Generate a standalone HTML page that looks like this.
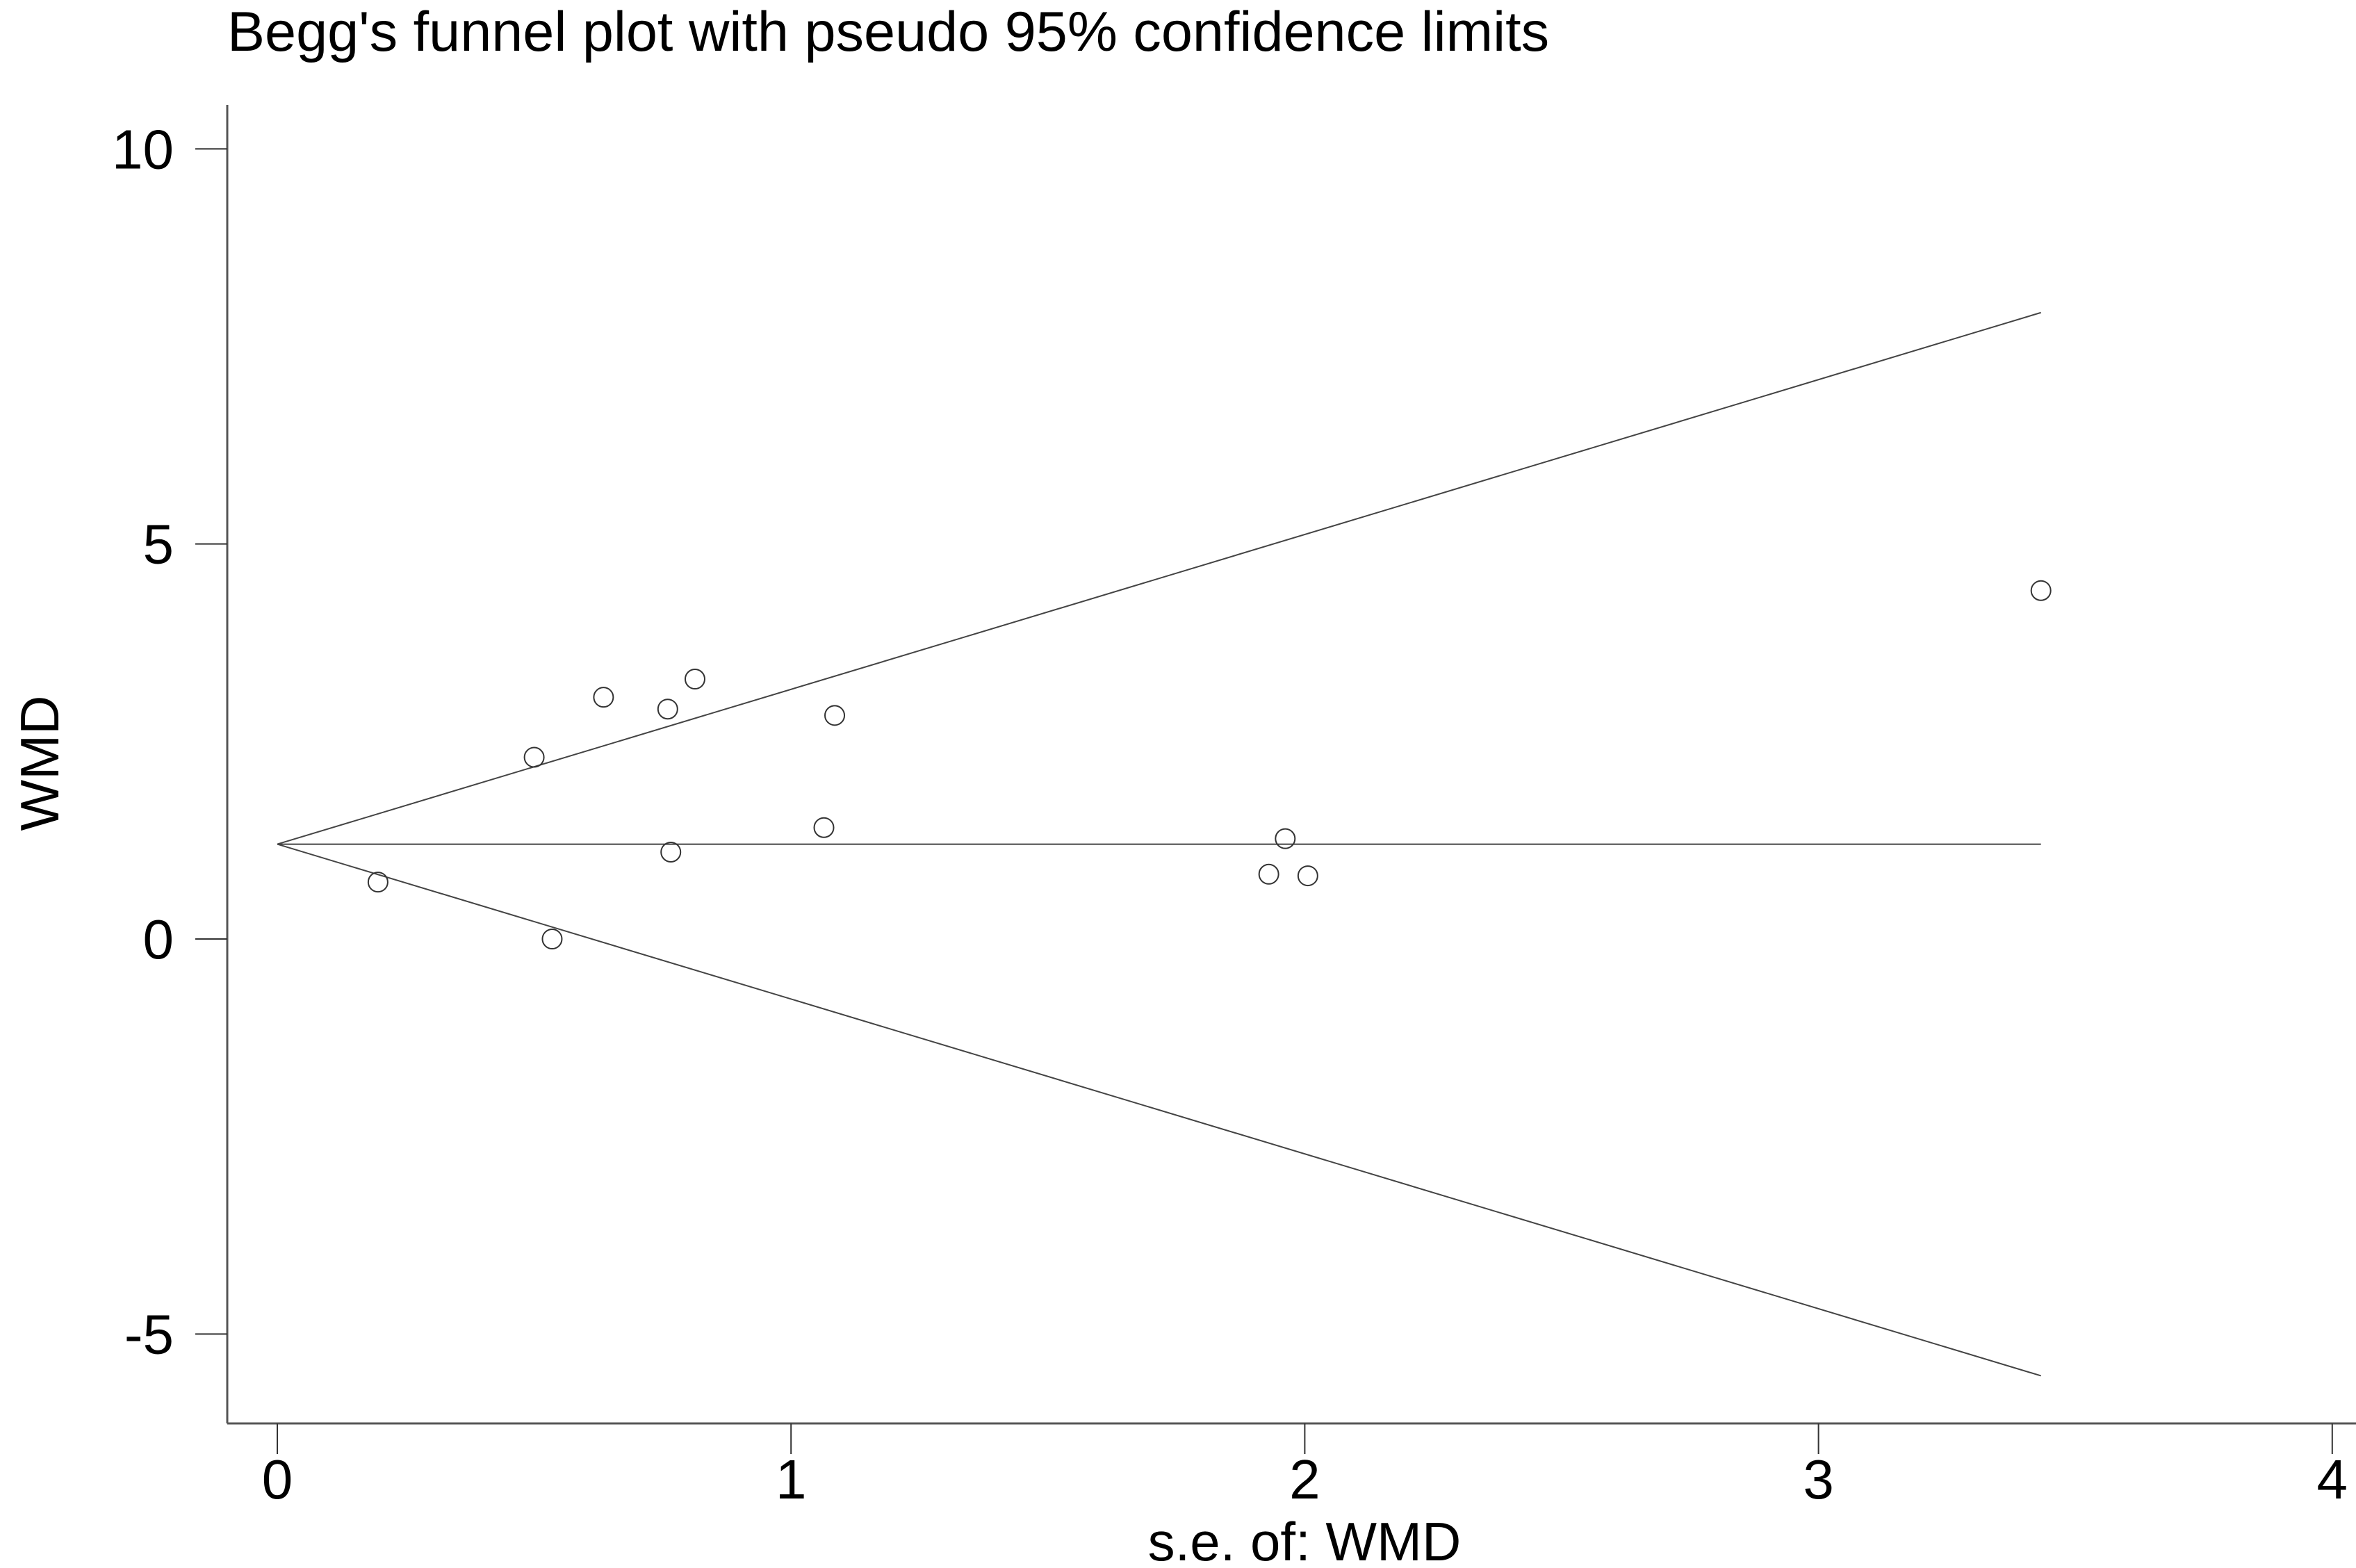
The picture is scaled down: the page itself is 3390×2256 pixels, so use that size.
<!DOCTYPE html>
<html><head><meta charset="utf-8"><style>
html,body{margin:0;padding:0;background:#fff;}
svg{display:block;font-family:"Liberation Sans",Arial,sans-serif;}
</style></head><body>
<svg id="chart" width="3390" height="2256" viewBox="0 0 3390 2256">
<rect width="3390" height="2256" fill="#fff"/>
<text x="327" y="73" font-size="81" fill="#000">Begg's funnel plot with pseudo 95% confidence limits</text>
<g id="axes"></g>
<g id="marks"></g>
</svg>
<script>
const xTicks = [0, 1, 2, 3, 4];
const yTicks = [-5, 0, 5, 10];
const seValues = [0.196, 0.50, 0.535, 0.635, 0.76, 0.766, 0.813, 1.064, 1.085, 1.93, 1.962, 2.006, 3.433];
const wmdValues = [0.72, 2.30, 0.00, 3.06, 2.91, 1.10, 3.29, 1.41, 2.83, 0.82, 1.27, 0.80, 4.41];
const pooled = [1.2];
const maxSe = [3.433];

const NS = 'http://www.w3.org/2000/svg';
const xS = v => 399 + v * 739.2;
const yS = v => 1351 - v * 113.67;
const axes = document.getElementById('axes');
const marks = document.getElementById('marks');
function mk(tag, attrs, parent) {
  const e = document.createElementNS(NS, tag);
  for (const k in attrs) e.setAttribute(k, attrs[k]);
  parent.appendChild(e);
  return e;
}
let e;
e = mk('line', {x1: 327, y1: 151, x2: 327, y2: 2048, stroke: '#555', 'stroke-width': 3}, axes);


e = mk('line', {x1: 327, y1: 2048, x2: 3390, y2: 2048, stroke: '#555', 'stroke-width': 3}, axes);


yTicks.forEach(t => {
  const y = yS(t);
  let l = mk('line', {x1: 281, y1: y, x2: 327, y2: y, stroke: '#333', 'stroke-width': 2}, axes);
  
  
  let tx = mk('text', {x: 250, y: y + 28, 'font-size': 80, 'text-anchor': 'end'}, axes);
  tx.textContent = t < 0 ? '-' + Math.abs(t) : String(t);
  
  
});
xTicks.forEach(t => {
  const x = xS(t);
  let l = mk('line', {x1: x, y1: 2048, x2: x, y2: 2092, stroke: '#333', 'stroke-width': 2}, axes);
  
  
  let tx = mk('text', {x: x, y: 2156, 'font-size': 80, 'text-anchor': 'middle'}, axes);
  tx.textContent = String(t);
  
  
});
e = mk('text', {x: 1877, y: 2245, 'font-size': 78, 'text-anchor': 'middle'}, axes);
e.textContent = 's.e. of: WMD';


e = mk('text', {x: 0, y: 0, 'font-size': 78, 'text-anchor': 'middle', transform: 'translate(84,1098) rotate(-90)'}, axes);
e.textContent = 'WMD';



const p = pooled[0], m = maxSe[0];
const lines = [
  ['pooled-estimate-line', p, p],
  ['upper-confidence-limit', p, p + 1.96 * m],
  ['lower-confidence-limit', p, p - 1.96 * m]
];
lines.forEach(([n, a, b]) => {
  let l = mk('line', {x1: xS(0), y1: yS(a), x2: xS(m), y2: yS(b), stroke: '#444', 'stroke-width': 2}, marks);
  
  
});
seValues.forEach((s, i) => {
  let c = mk('circle', {cx: xS(s), cy: yS(wmdValues[i]), r: 14, fill: 'none', stroke: '#333', 'stroke-width': 2}, marks);
  
  
});
</script>
</body></html>
